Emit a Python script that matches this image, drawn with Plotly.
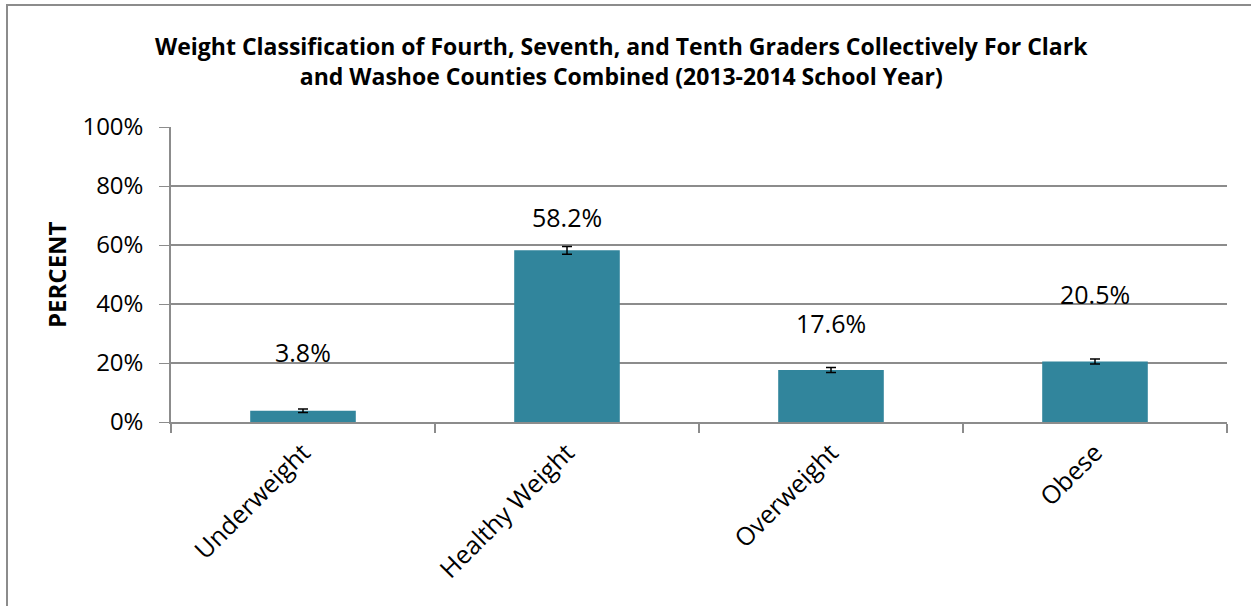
import plotly.graph_objects as go

categories = ["Underweight", "Healthy Weight", "Overweight", "Obese"]
values = [3.8, 58.2, 17.6, 20.5]
errors = [0.6, 1.3, 0.85, 0.85]
label_texts = ["3.8%", "58.2%", "17.6%", "20.5%"]
label_y = [23.7, 69.5, 33.6, 43.4]
y_ticks = [0, 20, 40, 60, 80, 100]
y_tick_text = ["0%", "20%", "40%", "60%", "80%", "100%"]

W, H = 1251, 606
L, R, T, B = 171, 24, 127, 184
pw, ph = W - L - R, H - T - B

FONT = "Open Sans, Liberation Sans, sans-serif"
GREY = "#8c8c8c"

fig = go.Figure()
fig.add_trace(go.Bar(
    x=categories, y=values, width=0.4,
    marker=dict(color="#31859C", line=dict(width=0)),
    error_y=dict(type="data", array=errors, visible=True, color="black", thickness=1.5, width=5),
    hoverinfo="skip",
))

for c, t, yy in zip(categories, label_texts, label_y):
    fig.add_annotation(x=c, y=yy, text=t, showarrow=False,
                       font=dict(size=25, color="black", family=FONT),
                       xanchor="center", yanchor="middle")

# y-axis title
fig.add_annotation(xref="paper", yref="paper", x=(56 - L) / pw, y=(422 - 275) / ph,
                   text="<b>PERCENT</b>", textangle=-90, showarrow=False,
                   font=dict(size=24, family=FONT, color="black"),
                   xanchor="center", yanchor="middle")

# chart title
fig.add_annotation(xref="paper", yref="paper", x=(621 - L) / pw, y=(422 - 61) / ph,
                   text="<b>Weight Classification of Fourth, Seventh, and Tenth Graders Collectively For Clark<br>and Washoe Counties Combined (2013-2014 School Year)</b>",
                   showarrow=False, align="center",
                   font=dict(size=23, family=FONT, color="black"),
                   xanchor="center", yanchor="middle")

fig.update_layout(
    width=W, height=H,
    margin=dict(l=L, r=R, t=T, b=B),
    paper_bgcolor="white", plot_bgcolor="white",
    showlegend=False,
    font=dict(family=FONT, color="black"),
    bargap=0.6,
)
fig.update_xaxes(
    showline=True, linecolor=GREY, linewidth=2,
    ticks="outside", ticklen=9, tickcolor=GREY, tickwidth=2,
    tickson="boundaries", ticklabelstandoff=4,
    tickangle=-45, tickfont=dict(size=25, family=FONT, color="black"),
    showgrid=False,
)
fig.update_yaxes(
    range=[0, 100], tickvals=y_ticks, ticktext=y_tick_text,
    showline=True, linecolor=GREY, linewidth=1.5,
    ticks="outside", ticklen=10, tickcolor=GREY,
    ticklabelstandoff=11,
    showgrid=True, gridcolor=GREY, gridwidth=1.5,
    tickfont=dict(size=24, family=FONT, color="black"),
    zeroline=False,
)

# outer chart border
fig.add_shape(type="rect", xref="paper", yref="paper",
              x0=(7 - L) / pw, x1=(1262 - L) / pw,
              y0=(422 - 620) / ph, y1=(422 - 5) / ph,
              line=dict(color=GREY, width=2), fillcolor="rgba(0,0,0,0)", layer="below")

fig.write_html("out.html", config={"displayModeBar": False},
               post_script="document.body.style.margin='0';")
